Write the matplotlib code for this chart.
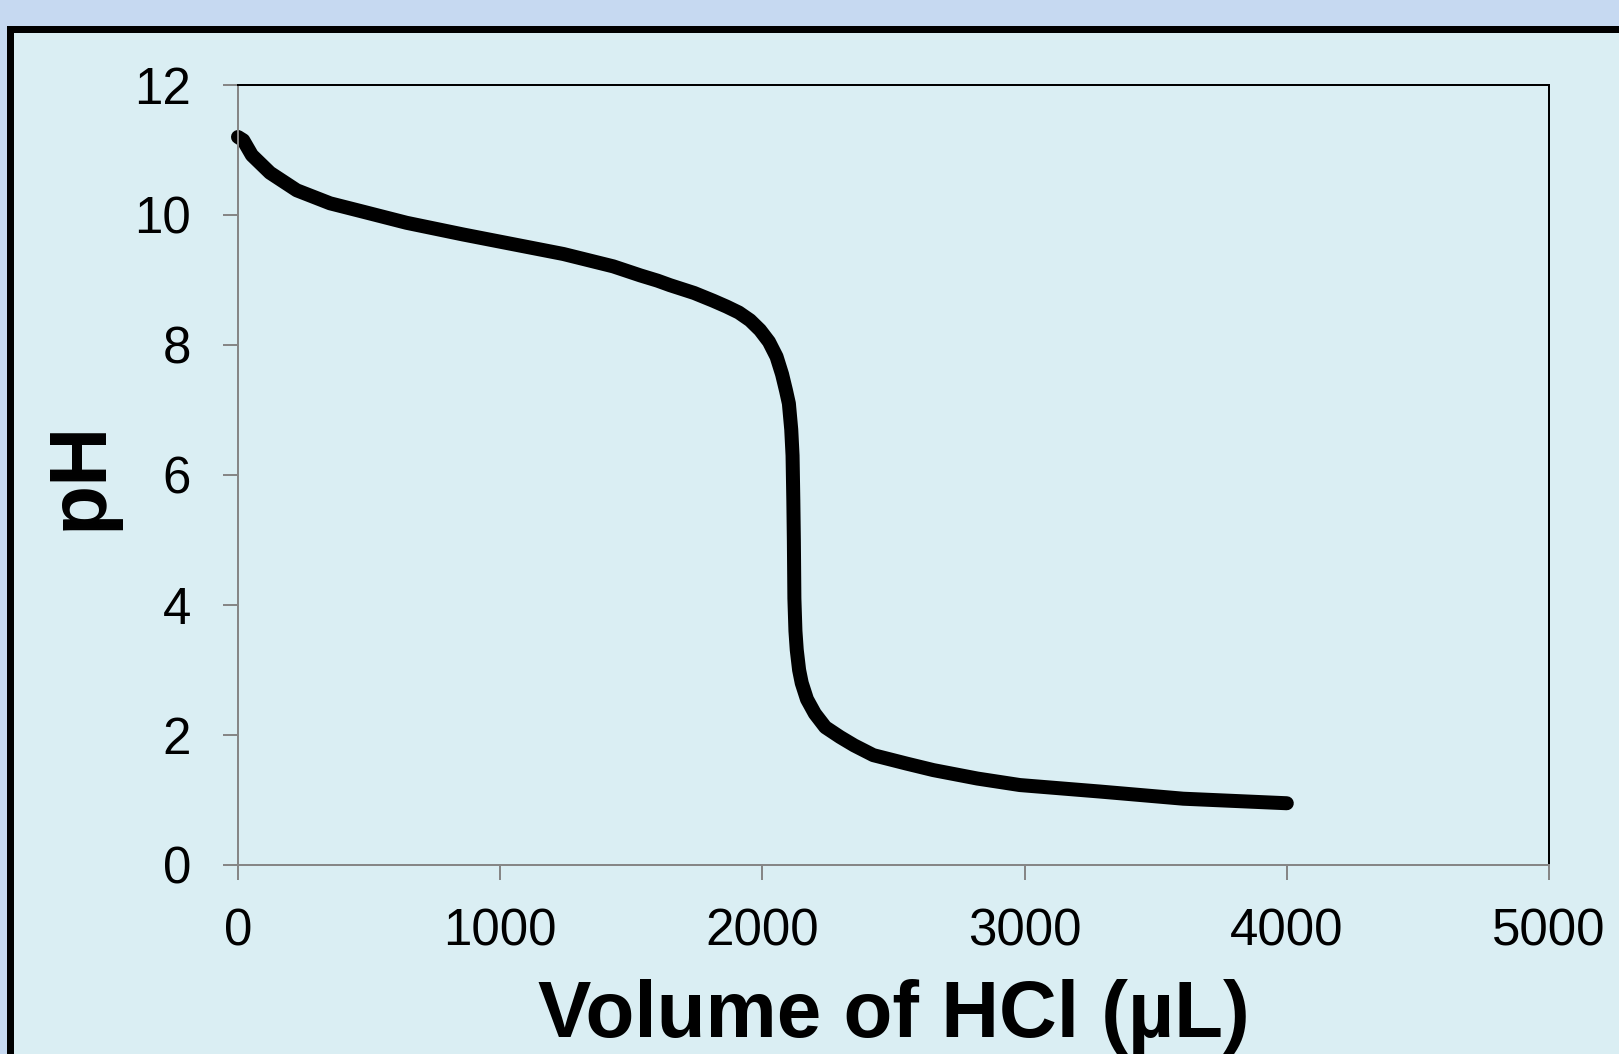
import matplotlib.pyplot as plt
from matplotlib.patches import Rectangle

# titration curve
volume_ul = [0, 20, 53, 122, 224, 351, 478, 643, 859, 1050, 1241, 1431, 1535,
             1600, 1648, 1740, 1813, 1864, 1910, 1953, 1991, 2025, 2054, 2075,
             2090, 2101, 2110, 2115, 2118, 2120, 2122, 2126, 2131, 2140, 2150,
             2170, 2200, 2240, 2296, 2350, 2423, 2550, 2652, 2820, 2982, 3288,
             3605, 4000]
ph = [11.2, 11.15, 10.92, 10.65, 10.38, 10.18, 10.05, 9.88, 9.70, 9.55, 9.40,
      9.21, 9.07, 8.99, 8.92, 8.80, 8.68, 8.59, 8.50, 8.38, 8.23, 8.05, 7.82,
      7.55, 7.30, 7.10, 6.70, 6.30, 5.60, 5.00, 4.10, 3.60, 3.31, 3.00, 2.80,
      2.55, 2.33, 2.12, 1.97, 1.84, 1.69, 1.56, 1.46, 1.33, 1.23, 1.13, 1.02,
      0.95]

x_ticks = [0, 1000, 2000, 3000, 4000, 5000]
y_ticks = [0, 2, 4, 6, 8, 10, 12]

plt.rcParams['font.family'] = ['Liberation Sans', 'DejaVu Sans']

W, H = 1619, 1054
fig = plt.figure(figsize=(W / 72, H / 72), dpi=72, facecolor='#c6d9f1')

# panel with thick black frame, running off the right and bottom edges
panel = Rectangle((10 / W, -0.1), 1.2, 1 - 29 / H + 0.1, transform=fig.transFigure,
                  facecolor='#daeef3', edgecolor='black', linewidth=7,
                  clip_on=False, zorder=-1)
fig.patches.append(panel)

ax = fig.add_axes([238 / W, 1 - 865 / H, (1549 - 238) / W, (865 - 85) / H])
ax.set_facecolor('#daeef3')

ax.plot(volume_ul, ph, color='black', linewidth=14, solid_capstyle='round',
        solid_joinstyle='round', clip_on=False)

ax.set_xlim(0, 5000)
ax.set_ylim(0, 12)
ax.set_xticks(x_ticks)
ax.set_yticks(y_ticks)

for side in ['left', 'bottom']:
    ax.spines[side].set_color('#868686')
    ax.spines[side].set_linewidth(2)
for side in ['top', 'right']:
    ax.spines[side].set_color('black')
    ax.spines[side].set_linewidth(2)

ax.tick_params(axis='both', direction='out', length=15, width=2, color='#868686',
               labelsize=51)
ax.tick_params(axis='y', pad=32)
ax.tick_params(axis='x', pad=28)

ax.set_xlabel('Volume of HCl (µL)', fontsize=80, fontweight='bold', labelpad=22)
ax.set_ylabel('pH', fontsize=82, fontweight='bold', labelpad=16)

plt.savefig('out.png', dpi=72, facecolor=fig.get_facecolor())
